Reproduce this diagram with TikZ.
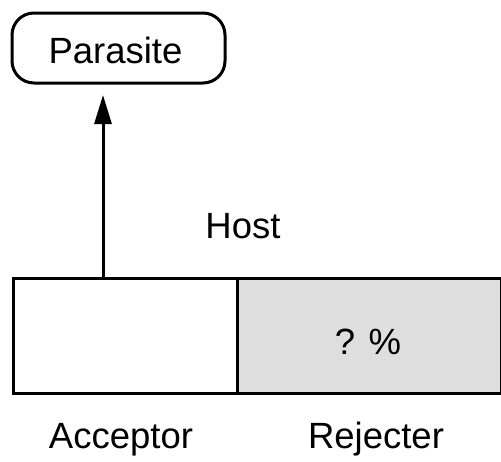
\documentclass[tikz,border=0pt]{standalone}
\usepackage{fontspec}
\setmainfont{Liberation Sans}
\usetikzlibrary{arrows.meta}
\begin{document}
\begin{tikzpicture}[x=1pt,y=-1pt,
  lbl/.style={font=\fontsize{36.5}{40}\selectfont, inner sep=0pt, anchor=base},
  cell/.style={draw=black, line width=3pt, inner sep=0pt, anchor=north west}]
\useasboundingbox (0,0) rectangle (501,461);
\node[draw=black, line width=3pt, rounded corners=22pt, minimum width=213pt, minimum height=70pt, inner sep=0pt] (parasite) at (118.5,48) {};
\node[lbl] (ptext) at (115.5,63) {Parasite};
\node[cell, minimum width=224pt, minimum height=115pt, fill=white] (acc) at (12,277) {};
\node[cell, minimum width=263.5pt, minimum height=115pt, fill=black!13] (rej) at (236,277) {};
\node[lbl] (q) at (368,354) {? \%};
\node[lbl] (host) at (243,238) {Host};
\node[lbl] (acct) at (121,448) {Acceptor};
\node[lbl] (rejt) at (376,448) {Rejecter};
\coordinate (foot) at (103,277);
\coordinate (tip) at (103,95);
\draw[line width=3pt, -{Triangle[length=29pt,width=17pt]}] (foot) -- (tip);
\end{tikzpicture}
\end{document}
